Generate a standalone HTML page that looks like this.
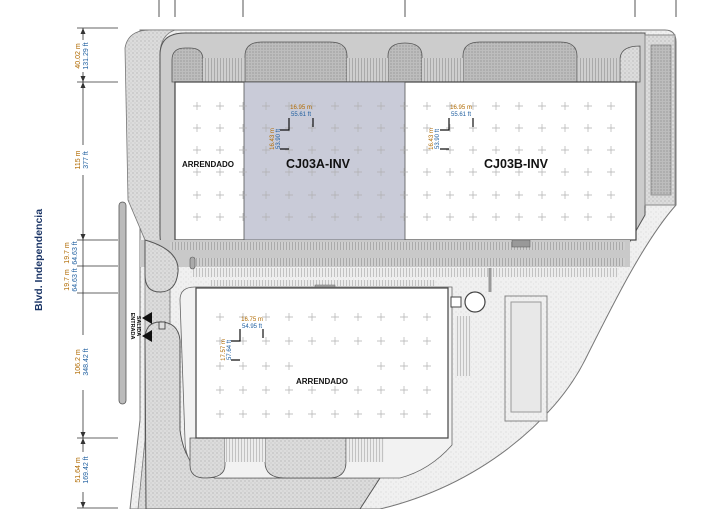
<!DOCTYPE html>
<html><head><meta charset="utf-8"><style>
html,body{margin:0;padding:0;background:#fff;}
svg{display:block;font-family:"Liberation Sans",sans-serif;}
</style></head><body>
<svg width="710" height="509" viewBox="0 0 710 509" xmlns="http://www.w3.org/2000/svg">
<defs>
<pattern id="st" width="4" height="4" patternUnits="userSpaceOnUse">
<rect width="4" height="4" fill="#dcdcdc"/><circle cx="1" cy="1" r="0.6" fill="#a8a8a8"/><circle cx="3" cy="3" r="0.5" fill="#b8b8b8"/></pattern>
<pattern id="st2" width="3" height="3" patternUnits="userSpaceOnUse">
<rect width="3" height="3" fill="#bdbdbd"/><circle cx="1" cy="1" r="0.6" fill="#8a8a8a"/></pattern>
<pattern id="lt" width="5" height="5" patternUnits="userSpaceOnUse">
<rect width="5" height="5" fill="#f0f0f0"/><circle cx="1" cy="2" r="0.5" fill="#c4c4c4"/><circle cx="3.5" cy="4" r="0.4" fill="#cccccc"/></pattern>
<pattern id="vl" width="3" height="10" patternUnits="userSpaceOnUse">
<rect width="3" height="10" fill="#cfcfcf"/><rect x="1" width="0.7" height="10" fill="#9a9a9a"/></pattern>
<pattern id="vl2" width="3" height="10" patternUnits="userSpaceOnUse">
<rect width="3" height="10" fill="#ececec"/><rect x="1" width="0.7" height="10" fill="#b0b0b0"/></pattern>
</defs>

<g stroke="#555" stroke-width="1">
<path d="M159 0V17M175 0V17M243 0V17M405 0V17M635 0V17M676 0V17"/>
</g>

<!-- site light area -->
<path d="M140 30 H665 Q676 30 676 42 V205 C645 240 615 300 585 360 C555 420 480 485 380 509 H130 L140 420 Z" fill="url(#lt)" stroke="#777" stroke-width="1"/>
<path d="M125 48 Q128 30 150 30 H175 Q160 35 160 55 V190 L170 240 V509 H138 L145 440 V240 L128 200 Z" fill="url(#st)" stroke="#777" stroke-width="0.8"/>
<path d="M160 55 Q160 33 185 33 H645 V215 L625 250 H170 Q160 250 160 235 Z" fill="#cccccc" stroke="#555" stroke-width="1"/>
<rect x="645" y="35" width="30" height="170" fill="url(#st)" stroke="#888"/>
<rect x="651" y="45" width="20" height="150" fill="url(#st2)" stroke="#888" stroke-width="0.8"/>
<path d="M172 82 V60 Q172 48 185 48 H190 Q203 48 203 60 V82Z" fill="url(#st2)" stroke="#555" stroke-width="0.8"/>
<path d="M245 82 V56 Q245 42 262 42 H330 Q347 42 347 56 V82Z" fill="url(#st2)" stroke="#555" stroke-width="0.8"/>
<path d="M388 82 V56 Q388 43 405 43 Q422 43 422 56 V82Z" fill="url(#st2)" stroke="#555" stroke-width="0.8"/>
<path d="M463 82 V56 Q463 42 480 42 H560 Q577 42 577 56 V82Z" fill="url(#st2)" stroke="#555" stroke-width="0.8"/>
<path d="M620 82 V60 Q620 46 640 46 V82Z" fill="url(#st)" stroke="#555" stroke-width="0.8"/>
<rect x="203" y="58" width="42" height="24" fill="url(#vl)"/>
<rect x="347" y="58" width="41" height="24" fill="url(#vl)"/>
<rect x="422" y="58" width="41" height="24" fill="url(#vl)"/>
<rect x="577" y="58" width="43" height="24" fill="url(#vl)"/>

<rect x="175" y="82" width="461" height="158" fill="#fff" stroke="#444" stroke-width="1.2"/>
<rect x="244" y="82" width="161" height="158" fill="#c9cbd8" stroke="#555" stroke-width="0.8"/>

<rect x="140" y="240" width="490" height="27" fill="#c9c9c9"/>
<rect x="170" y="242" width="455" height="8" fill="url(#vl)"/>
<rect x="193" y="258" width="432" height="8" fill="url(#vl)"/>
<rect x="193" y="268" width="425" height="9" fill="url(#vl2)"/>
<rect x="210" y="280" width="225" height="6" fill="url(#vl2)"/>
<rect x="190" y="257" width="5" height="12" rx="2.5" fill="#aaa" stroke="#555" stroke-width="0.6"/>
<rect x="315" y="285" width="20" height="5" fill="#aaa" stroke="#666" stroke-width="0.5"/>
<rect x="512" y="240" width="18" height="7" fill="#999" stroke="#555" stroke-width="0.5"/>

<path d="M145 240 Q180 250 178 272 Q176 292 160 292 Q145 292 145 275 Z" fill="url(#st)" stroke="#555"/>
<path d="M145 340 Q145 322 160 322 Q178 322 180 340 V430 Q185 470 215 478 H380 L360 509 H146 Z" fill="url(#st)" stroke="#555"/>
<path d="M180 300 Q180 287 195 287 H452 V445 Q430 470 400 478 H215 Q185 470 185 440 Z" fill="#f2f2f2" stroke="#666" stroke-width="0.8"/>
<path d="M190 438 V465 Q190 478 205 478 Q225 478 225 465 V438Z" fill="url(#st)" stroke="#555" stroke-width="0.8"/>
<path d="M265 438 V462 Q265 478 285 478 H329 Q346 478 346 462 V438Z" fill="url(#st)" stroke="#555" stroke-width="0.8"/>
<rect x="225" y="438" width="40" height="24" fill="url(#vl2)"/>
<rect x="346" y="438" width="38" height="24" fill="url(#vl2)"/>

<rect x="196" y="288" width="252" height="150" fill="#fff" stroke="#444" stroke-width="1.2"/>

<circle cx="475" cy="302" r="10" fill="#fff" stroke="#444" stroke-width="1.2"/>
<rect x="451" y="297" width="10" height="10" fill="#fff" stroke="#444"/>
<rect x="505" y="296" width="42" height="125" fill="url(#lt)" stroke="#888"/>
<rect x="511" y="302" width="30" height="110" fill="#e8e8e8" stroke="#999"/>
<rect x="455" y="316" width="16" height="60" fill="url(#vl2)"/>
<path d="M490 268 V292" stroke="#999" stroke-width="3"/>

<g stroke="#b0b0b0" stroke-width="0.7" fill="none">
<path d="
M193 106h8M197 102v8 M216 106h8M220 102v8 M239 106h8M243 102v8 M262 106h8M266 102v8 M285 106h8M289 102v8 M308 106h8M312 102v8 M331 106h8M335 102v8 M354 106h8M358 102v8 M377 106h8M381 102v8 M400 106h8M404 102v8 M423 106h8M427 102v8 M446 106h8M450 102v8 M469 106h8M473 102v8 M492 106h8M496 102v8 M515 106h8M519 102v8 M538 106h8M542 102v8 M561 106h8M565 102v8 M584 106h8M588 102v8 M607 106h8M611 102v8
M193 128h8M197 124v8 M216 128h8M220 124v8 M239 128h8M243 124v8 M262 128h8M266 124v8 M285 128h8M289 124v8 M308 128h8M312 124v8 M331 128h8M335 124v8 M354 128h8M358 124v8 M377 128h8M381 124v8 M400 128h8M404 124v8 M423 128h8M427 124v8 M446 128h8M450 124v8 M469 128h8M473 124v8 M492 128h8M496 124v8 M515 128h8M519 124v8 M538 128h8M542 124v8 M561 128h8M565 124v8 M584 128h8M588 124v8 M607 128h8M611 124v8
M193 150h8M197 146v8 M216 150h8M220 146v8 M239 150h8M243 146v8 M262 150h8M266 146v8 M285 150h8M289 146v8 M308 150h8M312 146v8 M331 150h8M335 146v8 M354 150h8M358 146v8 M377 150h8M381 146v8 M400 150h8M404 146v8 M423 150h8M427 146v8 M446 150h8M450 146v8 M469 150h8M473 146v8 M492 150h8M496 146v8 M515 150h8M519 146v8 M538 150h8M542 146v8 M561 150h8M565 146v8 M584 150h8M588 146v8 M607 150h8M611 146v8
M193 172h8M197 168v8 M216 172h8M220 168v8 M239 172h8M243 168v8 M262 172h8M266 168v8 M285 172h8M289 168v8 M308 172h8M312 168v8 M331 172h8M335 168v8 M354 172h8M358 168v8 M377 172h8M381 168v8 M400 172h8M404 168v8 M423 172h8M427 168v8 M446 172h8M450 168v8 M469 172h8M473 168v8 M492 172h8M496 168v8 M515 172h8M519 168v8 M538 172h8M542 168v8 M561 172h8M565 168v8 M584 172h8M588 168v8 M607 172h8M611 168v8
M193 195h8M197 191v8 M216 195h8M220 191v8 M239 195h8M243 191v8 M262 195h8M266 191v8 M285 195h8M289 191v8 M308 195h8M312 191v8 M331 195h8M335 191v8 M354 195h8M358 191v8 M377 195h8M381 191v8 M400 195h8M404 191v8 M423 195h8M427 191v8 M446 195h8M450 191v8 M469 195h8M473 191v8 M492 195h8M496 191v8 M515 195h8M519 191v8 M538 195h8M542 191v8 M561 195h8M565 191v8 M584 195h8M588 191v8 M607 195h8M611 191v8
M193 217h8M197 213v8 M216 217h8M220 213v8 M239 217h8M243 213v8 M262 217h8M266 213v8 M285 217h8M289 213v8 M308 217h8M312 213v8 M331 217h8M335 213v8 M354 217h8M358 213v8 M377 217h8M381 213v8 M400 217h8M404 213v8 M423 217h8M427 213v8 M446 217h8M450 213v8 M469 217h8M473 213v8 M492 217h8M496 213v8 M515 217h8M519 213v8 M538 217h8M542 213v8 M561 217h8M565 213v8 M584 217h8M588 213v8 M607 217h8M611 213v8
M216 317h8M220 313v8 M239 317h8M243 313v8 M262 317h8M266 313v8 M285 317h8M289 313v8 M308 317h8M312 313v8 M331 317h8M335 313v8 M354 317h8M358 313v8 M377 317h8M381 313v8 M400 317h8M404 313v8 M423 317h8M427 313v8
M216 341h8M220 337v8 M239 341h8M243 337v8 M262 341h8M266 337v8 M285 341h8M289 337v8 M308 341h8M312 337v8 M331 341h8M335 337v8 M354 341h8M358 337v8 M377 341h8M381 337v8 M400 341h8M404 337v8 M423 341h8M427 337v8
M216 366h8M220 362v8 M239 366h8M243 362v8 M262 366h8M266 362v8 M285 366h8M289 362v8 M377 366h8M381 362v8 M400 366h8M404 362v8 M423 366h8M427 362v8
M216 390h8M220 386v8 M239 390h8M243 386v8 M262 390h8M266 386v8 M285 390h8M289 386v8 M308 390h8M312 386v8 M331 390h8M335 386v8 M354 390h8M358 386v8 M377 390h8M381 386v8 M400 390h8M404 386v8 M423 390h8M427 386v8
M216 414h8M220 410v8 M239 414h8M243 410v8 M262 414h8M266 410v8 M285 414h8M289 410v8 M308 414h8M312 410v8 M331 414h8M335 410v8 M354 414h8M358 410v8 M377 414h8M381 410v8 M400 414h8M404 410v8 M423 414h8M427 410v8"/>
</g>

<g stroke="#111" stroke-width="1.2" fill="none">
<path d="M280 130h9v-12M313 118v9M280 149h9"/>
<path d="M440 130h9v-12M473 118v9M440 149h9"/>
<path d="M231 341h9v-12M263 329v9M231 360h9"/>
</g>
<g font-size="6" text-anchor="middle">
<text x="301" y="109" fill="#b06a00">16.95 m</text><text x="301" y="116" fill="#1f5fa0">55.61 ft</text>
<text x="461" y="109" fill="#b06a00">16.95 m</text><text x="461" y="116" fill="#1f5fa0">55.61 ft</text>
<text x="252" y="321" fill="#b06a00">16.75 m</text><text x="252" y="328" fill="#1f5fa0">54.95 ft</text>
<text transform="translate(274,139) rotate(-90)" fill="#b06a00">16.43 m</text>
<text transform="translate(280,139) rotate(-90)" fill="#1f5fa0">53.90 ft</text>
<text transform="translate(433,139) rotate(-90)" fill="#b06a00">16.43 m</text>
<text transform="translate(439,139) rotate(-90)" fill="#1f5fa0">53.90 ft</text>
<text transform="translate(225,350) rotate(-90)" fill="#b06a00">17.57 m</text>
<text transform="translate(231,350) rotate(-90)" fill="#1f5fa0">57.64 ft</text>
</g>

<g font-weight="bold" fill="#111" text-anchor="middle">
<text x="208" y="167" font-size="8">ARRENDADO</text>
<text x="318" y="168" font-size="12.5">CJ03A-INV</text>
<text x="516" y="168" font-size="12.5">CJ03B-INV</text>
<text x="322" y="384" font-size="8">ARRENDADO</text>
</g>

<rect x="119" y="202" width="7" height="202" rx="3.5" fill="#bbb" stroke="#555" stroke-width="0.8"/>
<path d="M152 312 L152 324 L142 318Z M152 330 L152 342 L142 336Z" fill="#111"/>
<rect x="159" y="322" width="6" height="7" fill="#ddd" stroke="#333" stroke-width="0.8"/>
<g font-size="5.5" font-weight="bold" fill="#111" text-anchor="middle">
<text transform="translate(131,326) rotate(90)">ENTRADA</text>
<text transform="translate(137,326) rotate(90)">SALIDA</text>
</g>

<g stroke="#333" stroke-width="0.8" fill="none">
<path d="M83 28V508"/>
<path d="M77 28H118M77 82H118M77 240H118M77 266H118M77 293H118M77 438H118M77 508H118"/>
</g>
<g fill="#333">
<path d="M83 28l-2.5 6h5z M83 82l-2.5 -6h5z M83 82l-2.5 6h5z M83 240l-2.5 -6h5z M83 438l-2.5 -6h5z M83 438l-2.5 6h5z M83 508l-2.5 -6h5z"/>
</g>
<rect x="76" y="40" width="14" height="32" fill="#fff"/>
<rect x="76" y="145" width="14" height="30" fill="#fff"/>
<rect x="62" y="335" width="28" height="55" fill="#fff"/>
<rect x="76" y="452" width="14" height="40" fill="#fff"/>
<g font-size="7" text-anchor="middle">
<text transform="translate(80,56) rotate(-90)" fill="#b06a00">40.02 m</text>
<text transform="translate(88,56) rotate(-90)" fill="#1f5fa0">131.29 ft</text>
<text transform="translate(80,160) rotate(-90)" fill="#b06a00">115 m</text>
<text transform="translate(88,160) rotate(-90)" fill="#1f5fa0">377 ft</text>
<text transform="translate(69,253) rotate(-90)" fill="#b06a00">19.7 m</text>
<text transform="translate(77,253) rotate(-90)" fill="#1f5fa0">64.63 ft</text>
<text transform="translate(69,280) rotate(-90)" fill="#b06a00">19.7 m</text>
<text transform="translate(77,280) rotate(-90)" fill="#1f5fa0">64.63 ft</text>
<text transform="translate(80,362) rotate(-90)" fill="#b06a00">106.2 m</text>
<text transform="translate(88,362) rotate(-90)" fill="#1f5fa0">348.42 ft</text>
<text transform="translate(80,470) rotate(-90)" fill="#b06a00">51.64 m</text>
<text transform="translate(88,470) rotate(-90)" fill="#1f5fa0">169.42 ft</text>
</g>
<text transform="translate(42,260) rotate(-90)" font-size="10.5" font-weight="bold" fill="#1b3566" text-anchor="middle">Blvd. Independencia</text>
</svg>
</body></html>
